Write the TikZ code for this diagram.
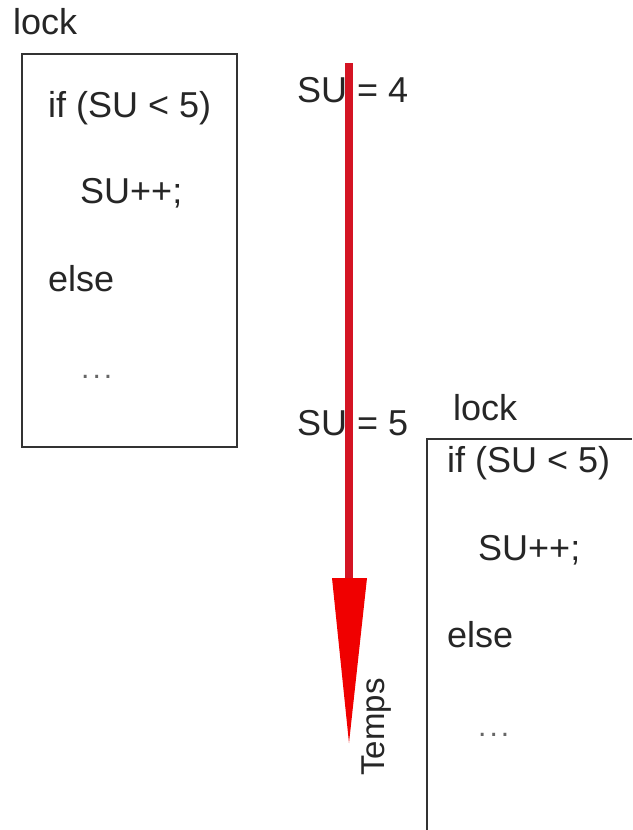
\documentclass[tikz,border=0pt]{standalone}
\usepackage{fontspec}
\setmainfont{Liberation Sans}
\begin{document}
\begin{tikzpicture}[x=1pt,y=1pt,
  txt/.style={inner sep=0pt, anchor=west, text=black!85, font=\fontsize{36}{40}\selectfont},
  dots/.style={inner sep=0pt, anchor=west, text=black!60, font=\fontsize{30}{34}\selectfont},
  boxline/.style={draw=black!80, line width=2pt}]
\useasboundingbox (0,0) rectangle (632,-830);
\fill[white] (0,0) rectangle (632,-830);
% left box
\draw[boxline] (22,-54) rectangle (237,-447);
\node[txt] (lockA) at (13,-22) {lock};
\node[txt] (ifA) at (48,-108) {if (SU < 5)};
\node[txt] (incA) at (80,-193) {SU++;};
\node[txt] (elseA) at (48,-279) {else};
\node[dots] (dotsA) at (81,-377) {.\kern3pt.\kern3pt.};
% state labels
\node[txt] (su4) at (297,-90) {SU = 4};
\node[txt] (su5) at (297,-423) {SU = 5};
% right box (cut by the picture edge)
\draw[boxline] (632,-439) -- (427,-439) -- (427,-830);
\node[txt] (lockB) at (453,-408) {lock};
\node[txt] (ifB) at (447,-463) {if (SU < 5)};
\node[txt] (incB) at (478,-550) {SU++;};
\node[txt] (elseB) at (447,-635) {else};
\node[dots] (dotsB) at (478,-735) {.\kern3pt.\kern3pt.};
% time arrow
\coordinate (tstart) at (349,-63);
\coordinate (tbase) at (349,-578);
\coordinate (ttip) at (349,-743);
\fill[color={rgb,255:red,212;green,20;blue,35}] ([xshift=-4pt]tstart) rectangle ([xshift=4pt]tbase);
\fill[color={rgb,255:red,240;green,0;blue,0}] ([xshift=-17pt]tbase) -- ([xshift=18pt]tbase) -- (ttip) -- cycle;
\node[inner sep=0pt, rotate=90, text=black!85, font=\fontsize{33}{36}\selectfont] (temps) at (377,-727) {Temps};
\end{tikzpicture}
\end{document}
